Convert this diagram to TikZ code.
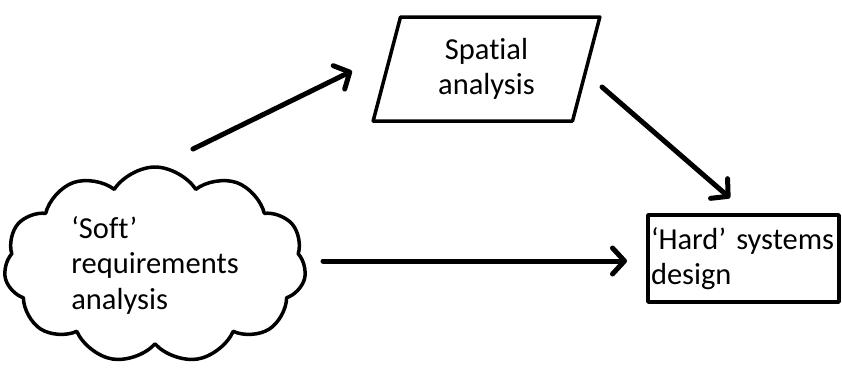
\documentclass[tikz,border=0pt]{standalone}
\usepackage{fontspec}
\setmainfont{Carlito}[Ligatures=NoCommon]
\usetikzlibrary{shapes.symbols,shapes.geometric,arrows.meta}
\begin{document}
\begin{tikzpicture}[x=1pt,y=-1pt,
  lbl/.style={font=\fontsize{30.5}{35.5}\selectfont},
  shapeline/.style={draw=black,line width=3.5pt,line join=round},
  conn/.style={line width=5pt,line cap=round,-{Straight Barb[length=12pt,width=26pt,line cap=round,line join=round]}}]
\useasboundingbox (0,0) rectangle (842,367);
\node[cloud,cloud puffs=11,cloud puff arc=115,aspect=1.55,shapeline,
  minimum width=302,minimum height=196,inner sep=0,lbl,align=left] (soft) at (155,265)
  {‘Soft’\\requirements\\analysis};
\node[trapezium,trapezium left angle=76,trapezium right angle=104,trapezium stretches=true,
  shapeline,minimum width=227,minimum height=104,inner sep=0,lbl,align=center] (spatial) at (486.5,69)
  {Spatial\\analysis};
\node[rectangle,shapeline,minimum width=191,minimum height=87,text width=185,inner sep=3,
  lbl,align=left] (hard) at (743.5,258.5) {\mbox{‘Hard’ systems}\\design};
\coordinate (a1s) at (193,149);
\coordinate (a1e) at (352,71);
\coordinate (a2s) at (602,87);
\coordinate (a2e) at (730,198);
\coordinate (a3s) at (323,261);
\coordinate (a3e) at (627,261);
\draw[conn] (a1s) -- (a1e);
\draw[conn] (a2s) -- (a2e);
\draw[conn] (a3s) -- (a3e);
\end{tikzpicture}
\end{document}
